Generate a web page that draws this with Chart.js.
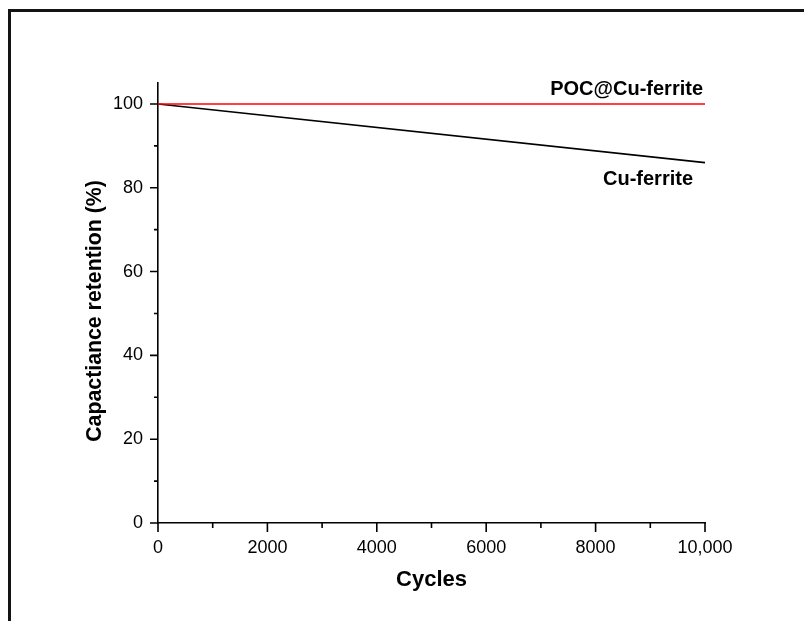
<!DOCTYPE html>
<html>
<head>
<meta charset="utf-8">
<script src="https://cdn.jsdelivr.net/npm/chart.js@4.4.1/dist/chart.umd.min.js"></script>
<style>
  html, body { margin: 0; padding: 0; background: #fff; }
  #wrap { position: relative; width: 804px; height: 621px; }
</style>
</head>
<body>
<div id="wrap"><canvas id="c" width="804" height="621"></canvas></div>
<script>
// ---- data ----
const cycles = [0, 10000];
const pocCuFerrite = [100, 100];
const cuFerrite = [100, 86];
const seriesNames = ['POC@Cu-ferrite', 'Cu-ferrite'];
const xMajorTicks = [0, 2000, 4000, 6000, 8000, 10000];
const xTickLabels = ['0', '2000', '4000', '6000', '8000', '10,000'];
const xMinorTicks = [1000, 3000, 5000, 7000, 9000];
const yMajorTicks = [0, 20, 40, 60, 80, 100];
const yMinorTicks = [10, 30, 50, 70, 90];
const xTitle = 'Cycles';
const yTitle = 'Capactiance retention (%)';

const FONT = '"Liberation Sans", Arial, sans-serif';

const decor = {
  id: 'decor',
  beforeDraw(chart) {
    const ctx = chart.ctx;
    ctx.save();
    ctx.fillStyle = '#fff';
    ctx.fillRect(0, 0, chart.width, chart.height);
    ctx.strokeStyle = '#141414';
    ctx.lineWidth = 3;
    ctx.strokeRect(9.5, 10.5, 900, 900);
    ctx.restore();
  },
  afterDraw(chart) {
    const ctx = chart.ctx;
    const xs = chart.scales.x, ys = chart.scales.y;
    const ca = chart.chartArea;
    ctx.save();
    ctx.strokeStyle = '#000';
    ctx.lineWidth = 1.6;
    ctx.beginPath();
    xMajorTicks.forEach(v => { const p = xs.getPixelForValue(v); ctx.moveTo(p, ca.bottom); ctx.lineTo(p, ca.bottom + 9); });
    xMinorTicks.forEach(v => { const p = xs.getPixelForValue(v); ctx.moveTo(p, ca.bottom); ctx.lineTo(p, ca.bottom + 5); });
    yMajorTicks.forEach(v => { const p = ys.getPixelForValue(v); ctx.moveTo(ca.left, p); ctx.lineTo(ca.left - 8, p); });
    yMinorTicks.forEach(v => { const p = ys.getPixelForValue(v); ctx.moveTo(ca.left, p); ctx.lineTo(ca.left - 4, p); });
    ctx.stroke();

    // axis titles
    ctx.fillStyle = '#000';
    ctx.font = 'bold 22px ' + FONT;
    ctx.textAlign = 'center';
    ctx.textBaseline = 'middle';
    ctx.fillText(xTitle, (ca.left + ca.right) / 2, 580);
    ctx.save();
    ctx.font = 'bold 21.3px ' + FONT;
    ctx.translate(95, 311);
    ctx.rotate(-Math.PI / 2);
    ctx.fillText(yTitle, 0, 0);
    ctx.restore();

    // series labels
    ctx.font = 'bold 20px ' + FONT;
    ctx.textAlign = 'right';
    ctx.textBaseline = 'alphabetic';
    const xEnd = xs.getPixelForValue(cycles[cycles.length - 1]);
    ctx.fillText(seriesNames[0], xEnd - 2, ys.getPixelForValue(pocCuFerrite[pocCuFerrite.length - 1]) - 9);
    ctx.fillText(seriesNames[1], xEnd - 12, ys.getPixelForValue(cuFerrite[cuFerrite.length - 1]) + 22);
    ctx.restore();
  }
};

new Chart(document.getElementById('c'), {
  type: 'line',
  data: {
    datasets: [
      { label: seriesNames[0], data: cycles.map((x, i) => ({ x, y: pocCuFerrite[i] })), borderColor: '#ff0000', borderWidth: 1.6, pointRadius: 0, fill: false, tension: 0 },
      { label: seriesNames[1], data: cycles.map((x, i) => ({ x, y: cuFerrite[i] })), borderColor: '#000000', borderWidth: 1.6, pointRadius: 0, fill: false, tension: 0 }
    ]
  },
  options: {
    responsive: false,
    devicePixelRatio: 1,
    animation: false,
    layout: { padding: { left: 0, right: 99, top: 83, bottom: 0 } },
    plugins: { legend: { display: false }, tooltip: { enabled: false } },
    scales: {
      x: {
        type: 'linear', min: 0, max: 10000,
        afterFit(s) { s.height = 98; },
        afterBuildTicks(s) { s.ticks = xMajorTicks.map(v => ({ value: v })); },
        grid: { display: false, drawTicks: false },
        border: { display: true, color: '#000', width: 1.6 },
        ticks: {
          padding: 14, color: '#000', font: { family: FONT, size: 18 }, maxRotation: 0,
          callback: (v) => { const i = xMajorTicks.indexOf(v); return i >= 0 ? xTickLabels[i] : ''; }
        }
      },
      y: {
        type: 'linear', min: 0, max: 105,
        afterFit(s) { s.width = 158; },
        afterBuildTicks(s) { s.ticks = yMajorTicks.map(v => ({ value: v })); },
        grid: { display: false, drawTicks: false },
        border: { display: true, color: '#000', width: 1.6 },
        ticks: { padding: 15, color: '#000', font: { family: FONT, size: 18 } }
      }
    }
  },
  plugins: [decor]
});
</script>
</body>
</html>
